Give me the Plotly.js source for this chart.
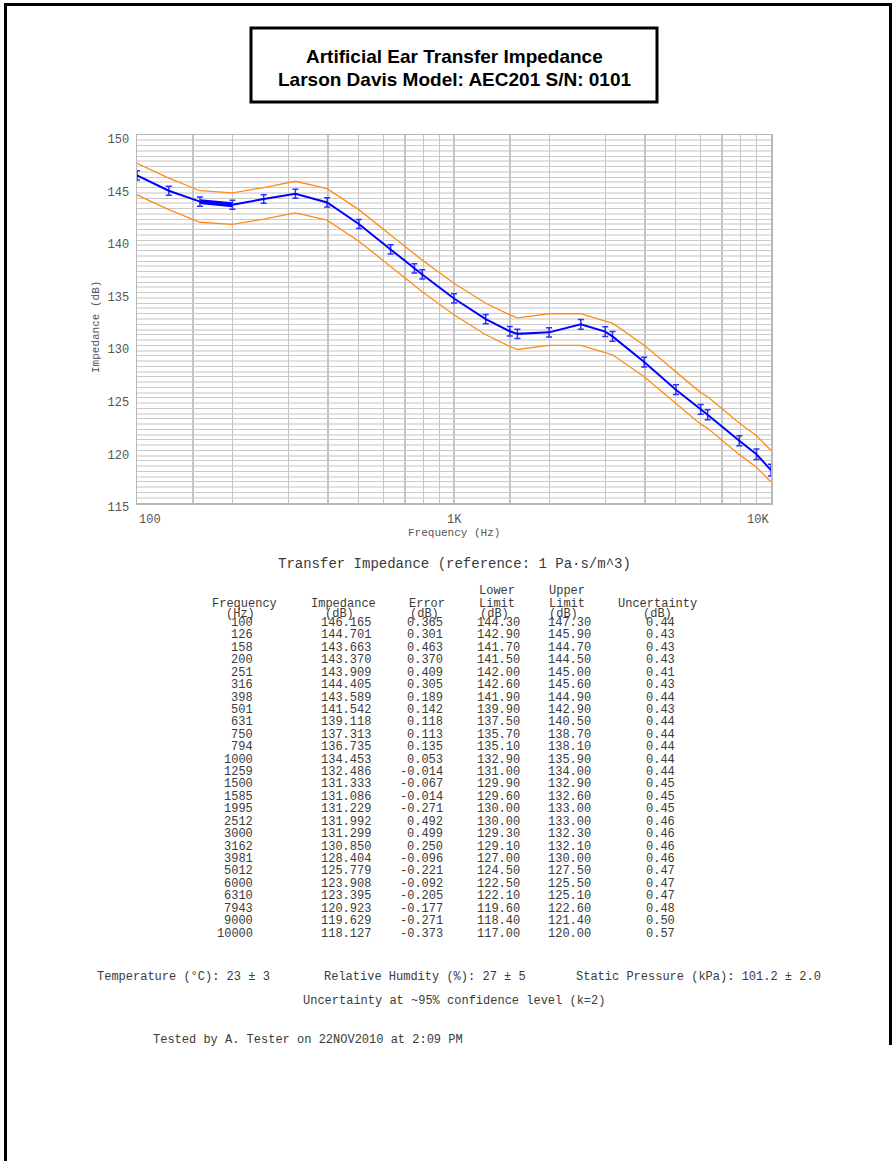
<!DOCTYPE html>
<html>
<head>
<meta charset="utf-8">
<script src="https://cdn.plot.ly/plotly-3.0.1.min.js"></script>
<style>
  html, body { margin: 0; padding: 0; background: #fff; }
  #chart { width: 894px; height: 1161px; }
</style>
</head>
<body>
<div id="chart"></div>
<script>
// ---- data ----
const freq = [100,126,158,200,251,316,398,501,631,750,794,1000,1259,1500,1585,1995,2512,3000,3162,3981,5012,6000,6310,7943,9000,10000];
const impedance = [146.165,144.701,143.663,143.370,143.909,144.405,143.589,141.542,139.118,137.313,136.735,134.453,132.486,131.333,131.086,131.229,131.992,131.299,130.850,128.404,125.779,123.908,123.395,120.923,119.629,118.127];
const errorDb = [0.365,0.301,0.463,0.370,0.409,0.305,0.189,0.142,0.118,0.113,0.135,0.053,-0.014,-0.067,-0.014,-0.271,0.492,0.499,0.250,-0.096,-0.221,-0.092,-0.205,-0.177,-0.271,-0.373];
const lowerLimit = [144.30,142.90,141.70,141.50,142.00,142.60,141.90,139.90,137.50,135.70,135.10,132.90,131.00,129.90,129.60,130.00,130.00,129.30,129.10,127.00,124.50,122.50,122.10,119.60,118.40,117.00];
const upperLimit = [147.30,145.90,144.70,144.50,145.00,145.60,144.90,142.90,140.50,138.70,138.10,135.90,134.00,132.90,132.60,133.00,133.00,132.30,132.10,130.00,127.50,125.50,125.10,122.60,121.40,120.00];
const uncertainty = [0.44,0.43,0.43,0.43,0.41,0.43,0.44,0.43,0.44,0.44,0.44,0.44,0.44,0.45,0.45,0.45,0.46,0.46,0.46,0.46,0.47,0.47,0.47,0.48,0.50,0.57];

const xGridVals = [150,200,300,400,500,600,700,800,900,1000,1500,2000,3000,4000,5000,6000,7000,8000,9000];
const xTickLabels = [[100,'100','left'],[1000,'1K','center'],[10000,'10K','right']];
const yRange = [115,150];
const yLabelStep = 5;

const titleLines = ['Artificial Ear Transfer Impedance','Larson Davis Model: AEC201 S/N: 0101'];
const tableTitle = 'Transfer Impedance (reference: 1 Pa\u00b7s/m^3)';
const headerTop = ['','','','Lower','Upper',''];
const headerMid = ['Frequency','Impedance','Error','Limit','Limit','Uncertainty'];
const headerUnits = ['(Hz)','(dB)','(dB)','(dB)','(dB)','(dB)'];
const conditions = ['Temperature (\u00b0C): 23 \u00b1 3','Relative Humdity (%): 27 \u00b1 5','Static Pressure (kPa): 101.2 \u00b1 2.0'];
const confidenceNote = 'Uncertainty at ~95% confidence level (k=2)';
const testedBy = 'Tested by A. Tester on 22NOV2010 at 2:09 PM';

// ---- layout helpers (page pixels -> paper coords) ----
const W = 894, H = 1161;
const PL = 137, PR = 771, PT = 135, PB = 503;
const px = x => (x - PL) / (PR - PL);
const py = y => (PB - y) / (PB - PT);
const MONO = '"Courier New", "Liberation Mono", monospace';
const TXT = '#3a3a3a';

const annotations = [];
function txt(text, x, y, anchor, size, opts) {
  annotations.push(Object.assign({
    text: text, xref: 'paper', yref: 'paper', x: px(x), y: py(y),
    xanchor: anchor, yanchor: 'middle', showarrow: false,
    font: {family: MONO, size: size, color: TXT}
  }, opts || {}));
}

// title box text
const SANS = 'Arial, "Liberation Sans", sans-serif';
txt('<b>' + titleLines[0] + '</b>', 454, 56, 'center', 19, {font: {family: SANS, size: 19, color: '#000'}});
txt('<b>' + titleLines[1] + '</b>', 454, 79, 'center', 19, {font: {family: SANS, size: 19, color: '#000'}});

// axis labels
xTickLabels.forEach(t => {
  annotations.push({text: t[1], xref: 'paper', yref: 'paper',
    x: Math.log10(t[0] / 100) / 2, y: py(520), xanchor: t[2], yanchor: 'middle',
    showarrow: false, font: {family: MONO, size: 12, color: '#555'}});
});
txt('Frequency (Hz)', 454, 533, 'center', 11, {font: {family: MONO, size: 11, color: '#555'}});
txt('Impedance (dB)', 96, 327, 'center', 11, {textangle: -90, font: {family: MONO, size: 11, color: '#555'}});

// table
txt(tableTitle, 454, 564, 'center', 14);
const colX = [
  {hx: 244, ux: 240, vx: 255, va: 'right'},
  {hx: 343, ux: 339, vx: 346, va: 'center'},
  {hx: 427, ux: 424, vx: 445, va: 'right'},
  {hx: 497, ux: 494, vx: 498, va: 'center'},
  {hx: 567, ux: 563, vx: 569, va: 'center'},
  {hx: 657, ux: 657, vx: 660, va: 'center'}
];
for (let c = 0; c < 6; c++) {
  if (headerTop[c]) txt(headerTop[c], colX[c].hx, 591, 'center', 12);
  txt(headerMid[c], colX[c].hx, 604, 'center', 12);
  txt(headerUnits[c], colX[c].ux, 614, 'center', 12);
}
for (let i = 0; i < freq.length; i++) {
  const y = 623 + i * 12.42;
  const row = [String(freq[i]), impedance[i].toFixed(3), errorDb[i].toFixed(3),
               lowerLimit[i].toFixed(2), upperLimit[i].toFixed(2), uncertainty[i].toFixed(2)];
  for (let c = 0; c < 6; c++) txt(row[c], colX[c].vx, y, colX[c].va, 12);
}

// footer
txt(conditions[0], 95, 977, 'left', 12);
txt(conditions[1], 322, 977, 'left', 12);
txt(conditions[2], 574, 977, 'left', 12);
txt(confidenceNote, 454, 1001, 'center', 12);
txt(testedBy, 151, 1040, 'left', 12);

// shapes: page border and title box
const shapes = [
  {type: 'line', xref: 'paper', yref: 'paper', x0: px(5.5), x1: px(5.5), y0: py(3), y1: py(1161), line: {color: '#000', width: 3}},
  {type: 'line', xref: 'paper', yref: 'paper', x0: px(4), x1: px(892), y0: py(4.5), y1: py(4.5), line: {color: '#000', width: 3}},
  {type: 'line', xref: 'paper', yref: 'paper', x0: px(890.5), x1: px(890.5), y0: py(3), y1: py(1045), line: {color: '#000', width: 3}},
  {type: 'rect', xref: 'paper', yref: 'paper', x0: px(251), x1: px(657), y0: py(102), y1: py(28), line: {color: '#000', width: 3}}
];

// y ticks: gridline each dB, label every 5 dB
const yTickVals = [], yTickText = [];
for (let v = yRange[0]; v <= yRange[1]; v++) {
  yTickVals.push(v);
  yTickText.push(v % yLabelStep === 0 ? String(v) : '');
}

const traces = [
  {x: freq, y: upperLimit, type: 'scatter', mode: 'lines', line: {color: '#ff8c1a', width: 1.3}, hoverinfo: 'skip'},
  {x: freq, y: lowerLimit, type: 'scatter', mode: 'lines', line: {color: '#ff8c1a', width: 1.3}, hoverinfo: 'skip'},
  {x: freq.slice(2, 4), y: impedance.slice(2, 4), type: 'scatter', mode: 'lines', line: {color: '#0000ff', width: 5}, hoverinfo: 'skip'},
  {x: freq, y: impedance, type: 'scatter', mode: 'lines',
   line: {color: '#0000ff', width: 2},
   error_y: {type: 'data', array: uncertainty, visible: true, color: '#3030ff', thickness: 1.5, width: 3}}
];

const layout = {
  width: W, height: H, autosize: false,
  paper_bgcolor: '#fff', plot_bgcolor: '#fff',
  showlegend: false,
  margin: {l: PL, r: W - PR, t: PT, b: H - PB, pad: 0},
  xaxis: {
    type: 'log', range: [2, 4], tickmode: 'array', tickvals: xGridVals,
    showticklabels: false, ticks: '', showgrid: true, gridcolor: '#c4c4c4', gridwidth: 1.5,
    showline: true, mirror: true, linecolor: '#b8b8b8', linewidth: 1.5, zeroline: false, fixedrange: true
  },
  yaxis: {
    range: yRange, tickmode: 'array', tickvals: yTickVals, ticktext: yTickText,
    ticks: '', showgrid: true, gridcolor: '#cacaca', gridwidth: 1,
    minor: {tickmode: 'linear', tick0: 115.5, dtick: 1, showgrid: true, gridcolor: '#e2e2e2', gridwidth: 2, ticks: ''},
    showline: true, mirror: true, linecolor: '#b8b8b8', linewidth: 1.5, zeroline: false,
    tickfont: {family: MONO, size: 12, color: '#555'}, ticklabelstandoff: 4, ticklabelshift: 4, fixedrange: true
  },
  annotations: annotations,
  shapes: shapes
};

Plotly.newPlot('chart', traces, layout, {displayModeBar: false, staticPlot: true});
</script>
</body>
</html>
